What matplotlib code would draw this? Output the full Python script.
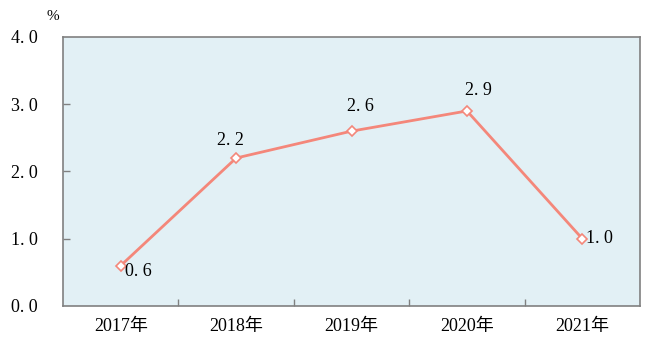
import matplotlib
matplotlib.use("Agg")
from matplotlib import pyplot as plt

years = ["2017年", "2018年", "2019年", "2020年", "2021年"]
values = [0.6, 2.2, 2.6, 2.9, 1.0]
y_ticks = [0.0, 1.0, 2.0, 3.0, 4.0]

font = ["Liberation Serif", "Noto Sans CJK SC"]
line_color = "#F4877A"


def spaced(v):
    # the source uses wide, full-width-like spacing after the dot
    return f"{v:.1f}".replace(".", ". ")


fig = plt.figure(figsize=(6.71, 3.57), dpi=100)
ax = fig.add_axes([0.0939, 0.1429, 0.86, 0.7535])
ax.set_facecolor("#E2F0F5")

x = list(range(len(years)))
ax.plot(x, values, color=line_color, linewidth=2, marker="D", markersize=5,
        markerfacecolor="white", markeredgecolor=line_color, markeredgewidth=1.2,
        zorder=3)

ax.set_xlim(-0.5, len(years) - 0.5)
ax.set_ylim(0, 4)

ax.set_yticks(y_ticks)
ax.set_yticklabels([spaced(v) for v in y_ticks], family=font, fontsize=13)
ax.set_xticks([i + 0.5 for i in range(len(years) - 1)])
ax.set_xticklabels([])
ax.tick_params(axis="y", direction="in", length=5, pad=18, color="#808080", width=1)
ax.tick_params(axis="x", direction="in", length=5, color="#808080", width=1)
ax.yaxis.get_major_ticks()[0].tick1line.set_visible(False)
ax.yaxis.get_major_ticks()[-1].tick1line.set_visible(False)

for i, name in enumerate(years):
    ax.text(i, -0.3, name, transform=ax.transData, ha="center", va="center",
            family=font, fontsize=13, clip_on=False)

for sp in ax.spines.values():
    sp.set_color("#808080")
    sp.set_linewidth(1.2)

# value labels, placed like the source
offsets = [(0.15, -0.09, "center"), (-0.05, 0.26, "center"), (0.08, 0.37, "center"),
           (0.1, 0.31, "center"), (0.15, 0.0, "center")]
for i, v in enumerate(values):
    dx, dy, ha = offsets[i]
    ax.text(i + dx, v + dy, spaced(v), ha=ha, va="center", family=font, fontsize=13)

fig.text(53 / 671, 1 - 17 / 357, "%", ha="center", va="center", family=font, fontsize=11)

plt.savefig("out.png", dpi=100)
plt.close()
